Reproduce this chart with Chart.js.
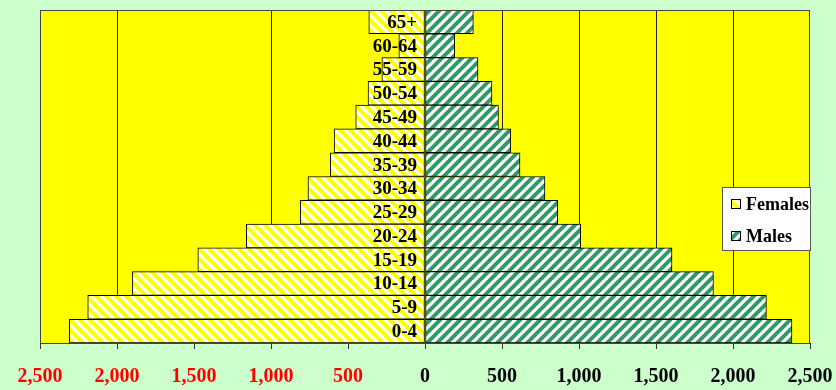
<!DOCTYPE html>
<html>
<head>
<meta charset="utf-8">
<script src="https://cdn.jsdelivr.net/npm/chart.js@4/dist/chart.umd.min.js"></script>
<style>
  html, body { margin: 0; padding: 0; background: #ccffcc; }
  #wrap { width: 836px; height: 390px; position: relative; }
</style>
</head>
<body>
<div id="wrap"><canvas id="c" width="836" height="390"></canvas></div>
<script>
// Age groups, oldest at the top
const ageGroups = ['65+', '60-64', '55-59', '50-54', '45-49', '40-44', '35-39',
                   '30-34', '25-29', '20-24', '15-19', '10-14', '5-9', '0-4'];
const females = [365, 170, 280, 370, 450, 590, 615, 760, 810, 1160, 1475, 1900, 2190, 2310];
const males   = [314, 193, 344, 435, 477, 556, 617, 779, 862, 1011, 1604, 1873, 2217, 2383];
const xTicks  = [-2500, -2000, -1500, -1000, -500, 0, 500, 1000, 1500, 2000, 2500];
const gridAt  = [-2000, -1000, 500, 1000, 1500, 2000];

const serif = 'Liberation Serif, Times New Roman, serif';

// Diagonal hatch fills
function hatch(color, rising) {
  const s = 10;
  const c = document.createElement('canvas');
  c.width = s; c.height = s;
  const g = c.getContext('2d');
  g.fillStyle = '#ffffff';
  g.fillRect(0, 0, s, s);
  g.strokeStyle = color;
  g.lineWidth = 4;
  g.beginPath();
  for (let k = -1; k <= 1; k++) {
    if (rising) {
      g.moveTo(k * s - 1, s + 1); g.lineTo(k * s + s + 1, -1);
    } else {
      g.moveTo(k * s - 1, -1); g.lineTo(k * s + s + 1, s + 1);
    }
  }
  g.stroke();
  return g.createPattern(c, 'repeat');
}
const femaleFill = hatch('#ffff00', false);
const maleFill = hatch('#339966', true);

// Yellow plot area, its frame, and the age-group labels along the zero line
const plotArea = {
  id: 'plotArea',
  beforeDraw(chart) {
    const { ctx, chartArea: a } = chart;
    ctx.save();
    ctx.fillStyle = '#ffff00';
    ctx.fillRect(a.left, a.top, a.right - a.left, a.bottom - a.top);
    ctx.restore();
  },
  afterDatasetsDraw(chart) {
    const { ctx, scales: { x, y } } = chart;
    const x0 = x.getPixelForValue(0);
    ctx.save();
    ctx.fillStyle = '#000';
    ctx.font = 'bold 19px ' + serif;
    ctx.textAlign = 'right';
    ctx.textBaseline = 'middle';
    y.getLabels().forEach((lab, i) => {
      ctx.fillText(lab, x0 - 8, y.getPixelForValue(i) + 1);
    });
    ctx.restore();
  },
  afterDraw(chart) {
    const { ctx, chartArea: a } = chart;
    ctx.save();
    ctx.strokeStyle = '#444';
    ctx.lineWidth = 1;
    ctx.strokeRect(Math.round(a.left) + 0.5, Math.round(a.top) + 0.5,
                   Math.round(a.right - a.left) - 1, Math.round(a.bottom - a.top));
    ctx.restore();
  }
};

// Boxed legend at the right of the plot
const boxLegend = {
  id: 'boxLegend',
  afterDraw(chart) {
    const ctx = chart.ctx;
    const x = 722, y = 187, w = 89, h = 64;
    ctx.save();
    ctx.fillStyle = '#ffffff';
    ctx.fillRect(x, y, w, h);
    ctx.strokeStyle = '#555';
    ctx.lineWidth = 1;
    ctx.strokeRect(x + 0.5, y + 0.5, w - 1, h - 1);
    chart.data.datasets.forEach((ds, i) => {
      const cy = y + 17 + i * 32;
      ctx.fillStyle = ds.backgroundColor;
      ctx.fillRect(731, cy - 5, 10, 10);
      ctx.strokeStyle = '#000';
      ctx.strokeRect(731.5, cy - 4.5, 9, 9);
      ctx.fillStyle = '#000';
      ctx.font = 'bold 18px ' + serif;
      ctx.textBaseline = 'middle';
      ctx.textAlign = 'left';
      ctx.fillText(ds.label, 746, cy + 1);
    });
    ctx.restore();
  }
};

new Chart(document.getElementById('c'), {
  type: 'bar',
  data: {
    labels: ageGroups,
    datasets: [
      {
        label: 'Females',
        data: females.map(v => -v),
        backgroundColor: femaleFill,
        borderColor: '#000',
        borderWidth: 1,
        borderSkipped: false
      },
      {
        label: 'Males',
        data: males,
        backgroundColor: maleFill,
        borderColor: '#000',
        borderWidth: 1,
        borderSkipped: false
      }
    ]
  },
  options: {
    indexAxis: 'y',
    responsive: false,
    animation: false,
    layout: { padding: { left: 40, right: 26, top: 10, bottom: 0 } },
    datasets: { bar: { barPercentage: 1, categoryPercentage: 1 } },
    plugins: {
      legend: { display: false },
      tooltip: { enabled: false }
    },
    scales: {
      x: {
        type: 'linear',
        min: -2500,
        max: 2500,
        stacked: true,
        afterBuildTicks(scale) { scale.ticks = xTicks.map(v => ({ value: v })); },
        afterFit(scale) {
          scale.height = 47;
          scale.paddingLeft = 0;
          scale.paddingRight = 0;
        },
        ticks: {
          callback: v => Math.abs(v).toLocaleString('en-US'),
          color: c => (c.tick && c.tick.value < 0) ? '#ff0000' : '#000000',
          font: { family: serif, size: 20, weight: 'bold' },
          padding: 16,
          maxRotation: 0,
          autoSkip: false
        },
        grid: {
          color: c => (c.tick && gridAt.includes(c.tick.value)) ? '#222' : 'rgba(0,0,0,0)',
          tickColor: '#333',
          tickLength: 6,
          lineWidth: 1
        },
        border: { display: true, color: '#000' }
      },
      y: {
        type: 'category',
        stacked: true,
        display: false
      }
    }
  },
  plugins: [plotArea, boxLegend]
});
</script>
</body>
</html>
